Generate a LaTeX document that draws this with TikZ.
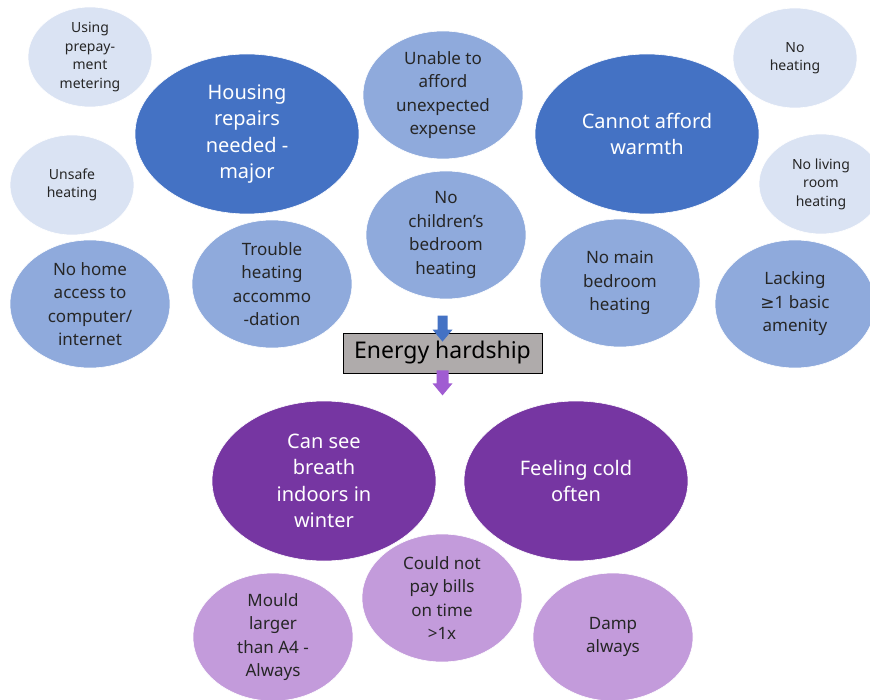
\documentclass[tikz,border=0pt]{standalone}
\usepackage{fontspec}
\setmainfont{Noto Sans}
\newfontfamily\symfont{DejaVu Sans}
\usetikzlibrary{shapes.geometric}
\definecolor{ink}{HTML}{262626}
\definecolor{bluedark}{HTML}{4472C4}
\definecolor{bluemid}{HTML}{8FAADC}
\definecolor{bluelight}{HTML}{DAE3F3}
\definecolor{purpdark}{HTML}{7636A2}
\definecolor{purplight}{HTML}{C39BDB}
\definecolor{boxgray}{HTML}{AFABAB}
\definecolor{arrowpurp}{HTML}{A05CD2}

\tikzset{
  bub/.style={ellipse, inner sep=0, draw=white, line width=0.6pt,
              align=center},
  bigbub/.style={bub, minimum width=224pt, minimum height=160pt,
                 text=white, font=\fontsize{20}{26.5}\selectfont},
  midbub/.style={bub, minimum width=160pt, minimum height=128pt,
                 text=ink, font=\fontsize{17}{23.5}\selectfont},
  smallbub/.style={bub, minimum width=124pt, minimum height=100pt,
                   text=ink, font=\fontsize{14}{18.5}\selectfont},
  hardbox/.style={draw=black, line width=0.8pt, fill=boxgray, inner sep=0,
                  minimum width=199pt, minimum height=40pt,
                  font=\fontsize{23}{26}\selectfont}
}

\begin{document}
\begin{tikzpicture}[x=1pt, y=-1pt]
\useasboundingbox (0,0) rectangle (870,700);

% ---- outer ring of causes
\foreach \nm/\x/\y/\txt in {%
  prepay/90/57/{Using\\prepay-\\ment\\metering},
  noheat/795/58/{No\\heating},
  livroom/821/184/{No living\\room\\heating},
  unsafe/72/185/{Unsafe\\heating}%
}{
  \node[smallbub, fill=bluelight] (\nm) at (\x,\y) {\txt};
}

\foreach \nm/\x/\y/\txt in {%
  unable/443/95/{Unable to\\afford\\unexpected\\expense},
  children/446/235/{No\\children's\\bedroom\\heating},
  trouble/272/284/{Trouble\\heating\\accommo\\-dation},
  nohome/90/304/{No home\\access to\\computer/\\internet},
  mainbed/620/283/{No main\\bedroom\\heating},
  lacking/795/304/{Lacking\\{\symfont ≥}1 basic\\amenity}%
}{
  \node[midbub, fill=bluemid] (\nm) at (\x,\y) {\txt};
}

\node[bigbub, fill=bluedark] (housing) at (247,134)
  {Housing\\repairs\\needed -\\major};
\node[bigbub, fill=bluedark] (warmth) at (647,134)
  {Cannot afford\\warmth};

% ---- the hardship box and its two block arrows
\node[hardbox] (hardship) at (442.5,353) {Energy hardship};

\fill[bluedark, shift={(hardship.north)}]
  (-5,-17) -- (5,-17) -- (5,-3) -- (10,-3) -- (0,9) -- (-10,-3)
  -- (-5,-3) -- cycle;
\fill[arrowpurp, shift={(hardship.south)}]
  (-6,-3) -- (6,-3) -- (6,10) -- (10,10) -- (0,22) -- (-10,10)
  -- (-6,10) -- cycle;

% ---- outcomes
\node[bigbub, fill=purpdark] (breath) at (324,481)
  {Can see\\breath\\indoors in\\winter};
\node[bigbub, fill=purpdark] (cold) at (576,481)
  {Feeling cold\\often};

\foreach \nm/\x/\y/\txt in {%
  bills/442/598/{Could not\\pay bills\\on time\\>1x},
  mould/273/637/{Mould\\larger\\than A4 -\\Always},
  damp/613/637/{Damp\\always}%
}{
  \node[midbub, fill=purplight] (\nm) at (\x,\y) {\txt};
}

\end{tikzpicture}
\end{document}
